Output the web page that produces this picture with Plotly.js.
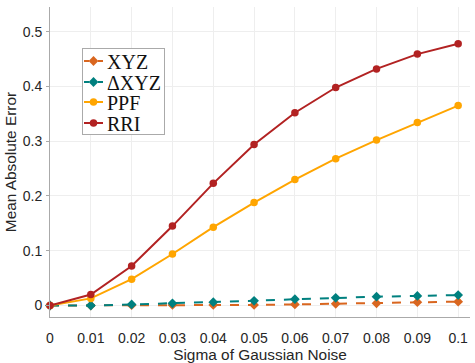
<!DOCTYPE html>
<html><head><meta charset="utf-8">
<script src="https://cdn.plot.ly/plotly-3.0.1.min.js"></script>
<style>html,body{margin:0;padding:0;background:#fff}#chart{width:475px;height:363px}</style>
</head><body><div id="chart"></div>
<script>
const sigma = [0, 0.01, 0.02, 0.03, 0.04, 0.05, 0.06, 0.07, 0.08, 0.09, 0.1];
const tickLabels = ['0','0.01','0.02','0.03','0.04','0.05','0.06','0.07','0.08','0.09','0.1'];
const xyz  = [0, 0, 0.0005, 0.001, 0.001, 0.001, 0.002, 0.003, 0.004, 0.006, 0.007];
const dxyz = [0, 0, 0.002, 0.004, 0.006, 0.0085, 0.0115, 0.014, 0.016, 0.0175, 0.019];
const ppf  = [0, 0.013, 0.048, 0.094, 0.143, 0.188, 0.230, 0.268, 0.302, 0.334, 0.365];
const rri  = [0, 0.020, 0.072, 0.145, 0.223, 0.294, 0.352, 0.398, 0.432, 0.459, 0.478];
const yTickVals = [0, 0.1, 0.2, 0.3, 0.4, 0.5];
const yTickText = ['0','0.1','0.2','0.3','0.4','0.5'];

function tr(name, y, color, dash, symbol) {
  return {x: sigma, y: y, name: name, type: 'scatter', mode: 'lines+markers',
    line: {color: color, width: 2, dash: dash},
    marker: {color: color, size: 7.5, symbol: symbol}, cliponaxis: false};
}
const data = [
  tr('XYZ', xyz, '#D9661F', 'dash', 'diamond'),
  tr('ΔXYZ', dxyz, '#00807F', 'dash', 'diamond'),
  tr('PPF', ppf, '#FFA500', 'solid', 'circle'),
  tr('RRI', rri, '#B22222', 'solid', 'circle')
];
const layout = {
  width: 475, height: 363,
  margin: {l: 50, r: 5, t: 7, b: 46},
  paper_bgcolor: '#fff', plot_bgcolor: '#fff',
  font: {family: 'Liberation Sans, Arial, sans-serif', size: 14, color: '#262626'},
  showlegend: true,
  legend: {x: 0.078, y: 0.94, xanchor: 'left', yanchor: 'top',
    bgcolor: '#fff', bordercolor: '#aaa', borderwidth: 1,
    font: {family: 'Liberation Serif, Times New Roman, serif', size: 20, color: '#111'},
    tracegroupgap: 0, itemwidth: 30},
  xaxis: {range: [0, 0.1029], tickvals: sigma, ticktext: tickLabels,
    showgrid: true, gridcolor: '#eeeeee', zeroline: false,
    showline: true, linecolor: '#aaaaaa', linewidth: 1,
    ticks: 'outside', ticklen: 8, tickcolor: 'rgba(0,0,0,0)',
    title: {text: 'Sigma of Gaussian Noise', font: {size: 15.4, color: '#262626'}, standoff: 1}},
  yaxis: {range: [-0.021, 0.545], tickvals: yTickVals, ticktext: yTickText,
    showgrid: true, gridcolor: '#eeeeee', zeroline: false,
    showline: true, linecolor: '#aaaaaa', linewidth: 1,
    ticks: 'outside', ticklen: 3, tickcolor: '#aaaaaa', ticklabelstandoff: 1,
    title: {text: 'Mean Absolute Error', font: {size: 15.4, color: '#262626'}, standoff: 2}}
};
Plotly.newPlot('chart', data, layout, {displayModeBar: false, staticPlot: true}).then(function () {
  // compact the legend to match the reference (tighter rows, short symbol)
  const leg = document.querySelector('.legend');
  if (!leg) return;
  const L = 82, T = 48, W = 82, H = 86;
  const rowY = [13, 34, 54, 75];
  leg.setAttribute('transform', 'translate(' + L + ',' + T + ')');
  const bg = leg.querySelector('rect.bg');
  if (bg) { bg.setAttribute('x', 0.5); bg.setAttribute('y', 0.5); bg.setAttribute('width', W); bg.setAttribute('height', H); }
  const sb = leg.querySelector('.scrollbox');
  if (sb) { sb.setAttribute('transform', 'translate(0,0)'); sb.removeAttribute('clip-path'); }
  leg.querySelectorAll('.traces').forEach(function (g, i) {
    g.setAttribute('transform', 'translate(0,' + rowY[i] + ')');
    g.querySelectorAll('path.js-line').forEach(function (p) {
      p.setAttribute('d', 'M2,0h19');
      p.style.strokeDasharray = (i < 2) ? '5px,2px' : 'none';
    });
    g.querySelectorAll('path.scatterpts').forEach(function (p) { p.setAttribute('transform', 'translate(11.5,0)'); });
    const t = g.querySelector('text.legendtext');
    if (t) t.setAttribute('x', 25);
  });
});
</script></body></html>
